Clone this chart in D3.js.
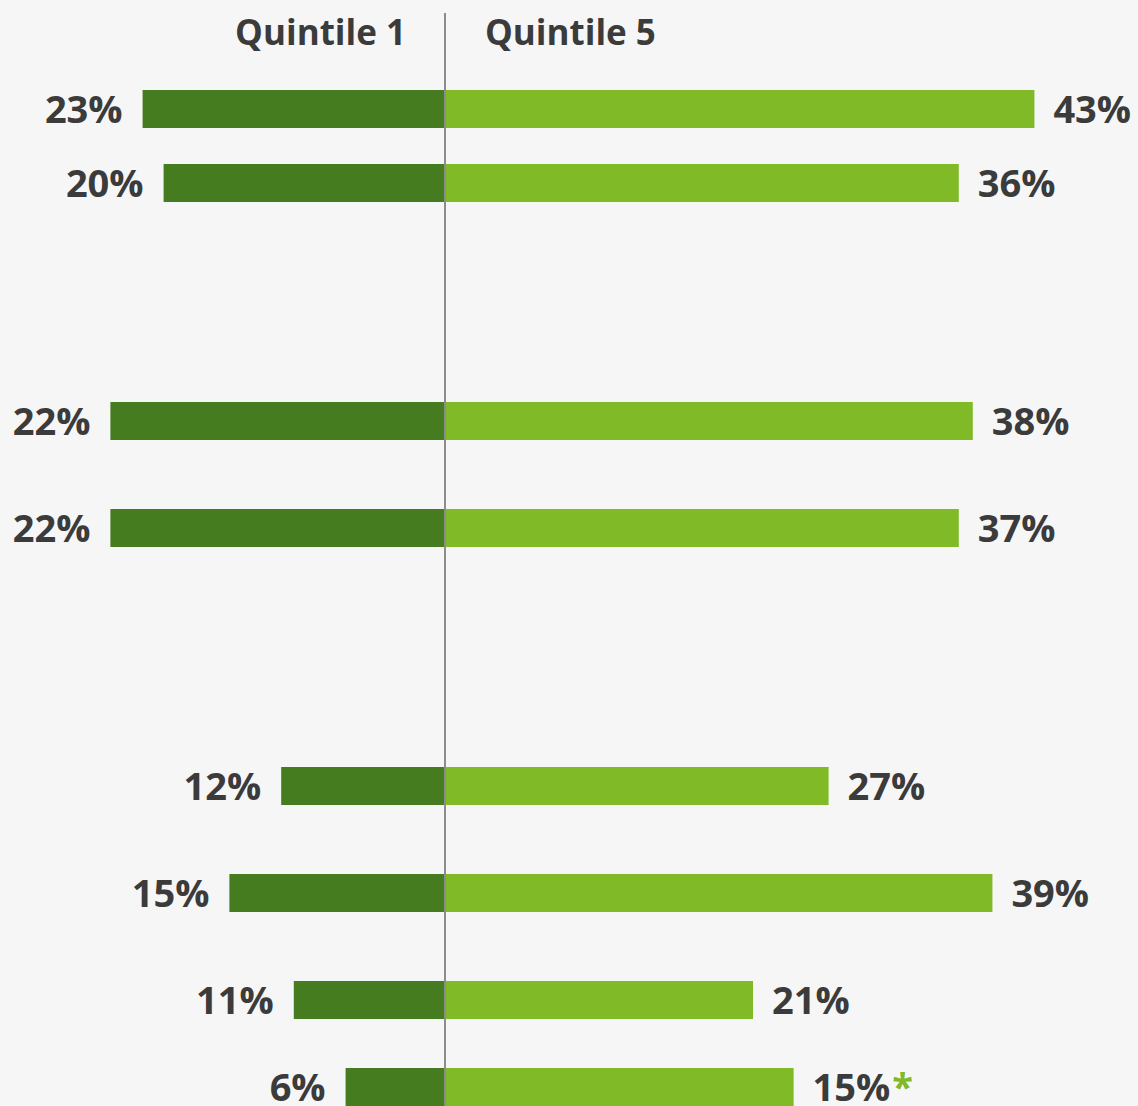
<!DOCTYPE html>
<html><head><meta charset="utf-8">
<script src="https://cdn.jsdelivr.net/npm/d3@7"></script>
<style>
html,body{margin:0;padding:0;background:#f6f6f6;}
svg{display:block;}
text{font-family:"Open Sans","Noto Sans",sans-serif;font-weight:700;fill:#3b3b3b;}
</style></head>
<body>
<script>
// ---- data ----
const categories = ["r1","r2","r3","r4","r5","r6","r7","r8"];
const seriesNames = ["Quintile 1","Quintile 5"];
const quintile1 = [21.6, 20.1, 23.9, 23.9, 11.7, 15.4, 10.8, 7.1];   // bar lengths as drawn
const quintile5 = [42.1, 36.7, 37.7, 36.7, 27.4, 39.1, 22.0, 24.9];
const labels1 = ["23%","20%","22%","22%","12%","15%","11%","6%"];
const labels5 = ["43%","36%","38%","37%","27%","39%","21%","15%"];
const flagged5 = [false,false,false,false,false,false,false,true];

// ---- layout ----
const W = 1138, H = 1106;
const svg = d3.select("body").append("svg").attr("width", W).attr("height", H);
svg.append("rect").attr("width", W).attr("height", H).attr("fill", "#f6f6f6");

const x = d3.scaleLinear().domain([-30, 45]).range([445 - 420, 445 + 630]);
const y = d3.scaleOrdinal().domain(categories).range([109, 183, 421, 528, 786, 893, 1000, 1087]);
const barH = 38;
const dark = "#457c1f", light = "#80ba27";
const fs = 38;

const rows = categories.map((c, i) => ({c, q1: quintile1[i], q5: quintile5[i], l1: labels1[i], l5: labels5[i], f: flagged5[i]}));

svg.selectAll("rect.q1").data(rows).join("rect")
  .attr("x", d => x(-d.q1)).attr("width", d => x(0) - x(-d.q1))
  .attr("y", d => y(d.c) - barH/2).attr("height", barH).attr("fill", dark);
svg.selectAll("rect.q5").data(rows).join("rect")
  .attr("x", x(0)).attr("width", d => x(d.q5) - x(0))
  .attr("y", d => y(d.c) - barH/2).attr("height", barH).attr("fill", light);

svg.selectAll("text.l1").data(rows).join("text")
  .attr("x", d => x(-d.q1) - 20).attr("y", d => y(d.c) + 13.5)
  .attr("text-anchor", "end").attr("font-size", fs).text(d => d.l1);
const t5 = svg.selectAll("text.l5").data(rows).join("text")
  .attr("x", d => x(d.q5) + 19).attr("y", d => y(d.c) + 13.5)
  .attr("text-anchor", "start").attr("font-size", fs);
t5.append("tspan").text(d => d.l5);
t5.filter(d => d.f).append("tspan").style("fill", light).attr("dx", 2).text("*");

// center line
svg.append("line").attr("x1", x(0)).attr("x2", x(0)).attr("y1", 13).attr("y2", H)
  .attr("stroke", "#8c8c8c").attr("stroke-width", 2);

// headers
svg.append("text").attr("x", 406).attr("y", 45).attr("text-anchor", "end")
  .attr("font-size", 35).text(seriesNames[0]);
svg.append("text").attr("x", 485).attr("y", 45).attr("text-anchor", "start")
  .attr("font-size", 35).text(seriesNames[1]);
</script>
</body></html>
